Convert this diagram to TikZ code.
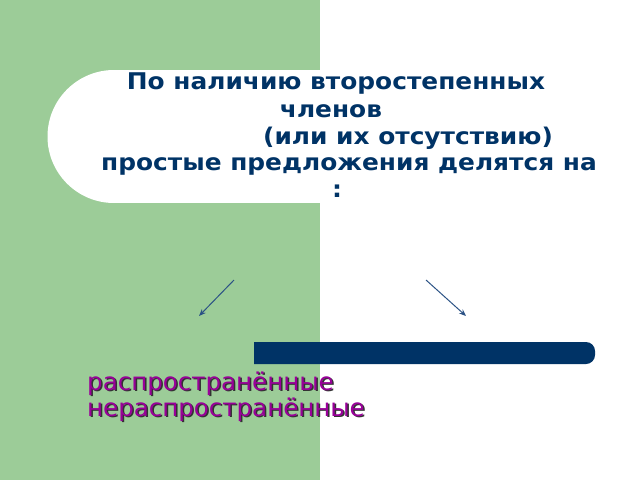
\documentclass[tikz,border=0pt]{standalone}
\usepackage{fontspec}
\setmainfont{DejaVu Sans}
\newfontfamily\titlefont[FakeStretch=1.08]{DejaVu Sans}
\usetikzlibrary{arrows.meta}
\definecolor{bggreen}{HTML}{9CCC98}
\definecolor{navy}{HTML}{003366}
\definecolor{arrowblue}{HTML}{2B5285}
\definecolor{purp}{HTML}{990099}
\tikzset{
  titleline/.style={anchor=base, inner sep=0pt, text=navy, font=\titlefont\fontsize{23}{27}\selectfont\bfseries},
  itemtext/.style={anchor=base west, inner sep=0pt, text=purp, font=\fontsize{24.5}{28}\selectfont},
  itemshadow/.style={anchor=base west, inner sep=0pt, text=black!80, font=\fontsize{24.5}{28}\selectfont},
  pointer/.style={draw=arrowblue, line width=1pt, -{Stealth[length=7pt,width=5.5pt]}}
}
\begin{document}
\begin{tikzpicture}[x=1pt,y=-1pt]
\useasboundingbox (0,0) rectangle (640,480);
\fill[white] (0,0) rectangle (640,480);
\fill[bggreen] (0,0) rectangle (320,480);
% white rounded band
\fill[white] (114,136.5) circle (66.5);
\fill[white] (114,70) rectangle (640,203);
% dark bar
\fill[navy] (254,342) -- (586,342) arc(-90:0:9) -- (595,355) arc(0:90:9) -- (254,364) -- cycle;
% title
\node[titleline] (t1) at (336,89) {По наличию второстепенных};
\node[titleline] (t2) at (331,117) {членов};
\node[titleline] (t3) at (408,144) {(или их отсутствию)};
\node[titleline] (t4) at (349,170) {простые предложения делятся на};
\node[titleline] (t5) at (337,197) {:};
% arrows
\coordinate (a1s) at (234,280);
\coordinate (a1e) at (199,316);
\coordinate (a2s) at (426,280);
\coordinate (a2e) at (466,316);
\draw[pointer] (a1s) -- (a1e);
\draw[pointer] (a2s) -- (a2e);
% items
\node[itemshadow] (s1) at (88.5,391.5) {распространённые};
\node[itemtext] (i1) at (87,390) {распространённые};
\node[itemshadow] (s2) at (88.5,417.5) {нераспространённые};
\node[itemtext] (i2) at (87,416) {нераспространённые};
\end{tikzpicture}
\end{document}
